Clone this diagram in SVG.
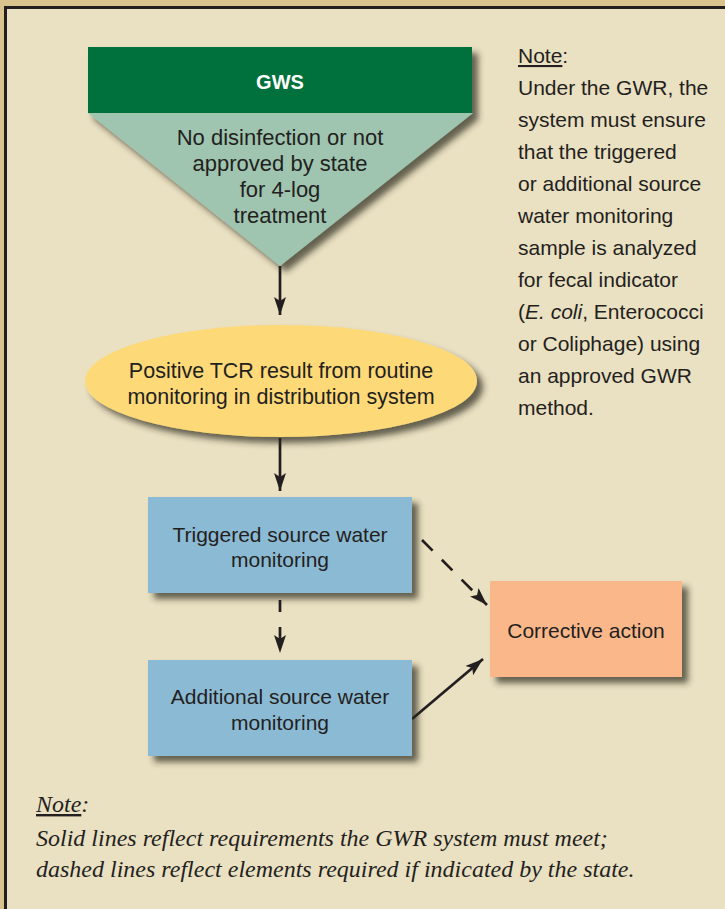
<svg xmlns="http://www.w3.org/2000/svg" width="725" height="909" viewBox="0 0 725 909">
<style>
  .t { font-family: "Liberation Sans", Arial, sans-serif; font-size: 21px; fill: #231f20; text-anchor: middle; }
  .tri { font-size: 22px; }
  .ell { font-size: 21.5px; }
  .note { font-family: "Liberation Sans", Arial, sans-serif; font-size: 21px; fill: #231f20; }
  .foot { font-family: "Liberation Serif", "Times New Roman", serif; font-style: italic; font-size: 24px; fill: #231f20; }
  .conn { stroke: #231f20; stroke-width: 2.7; fill: none; }
  .dash { stroke-dasharray: 12 15; }
  .ddash { stroke-dasharray: 15 13; }
</style>
<defs>
  <filter id="sh" x="-10%" y="-10%" width="130%" height="140%">
    <feDropShadow dx="6" dy="6" stdDeviation="3" flood-color="#2b281c" flood-opacity="0.7"/>
  </filter>
  <marker id="ah" markerUnits="userSpaceOnUse" markerWidth="20" markerHeight="14" refX="18" refY="7" orient="auto" viewBox="0 0 20 14">
    <path d="M0,1 L18,7 L0,13 L4,7 Z" fill="#231f20"/>
  </marker>
</defs>

<rect x="0" y="0" width="725" height="909" fill="#d9c48f"/>
<rect x="5.5" y="7.5" width="740" height="920" fill="#eae0c2" stroke="#231f20" stroke-width="3"/>

<g id="connectors">
  <line class="conn" x1="280" y1="266" x2="280" y2="315" marker-end="url(#ah)"/>
  <line class="conn" x1="280" y1="438" x2="280" y2="491" marker-end="url(#ah)"/>
  <line class="conn dash" x1="280" y1="600" x2="280" y2="653" marker-end="url(#ah)"/>
  <line class="conn ddash" x1="422" y1="540" x2="487" y2="605" marker-end="url(#ah)"/>
  <line class="conn" x1="412" y1="719" x2="483" y2="659" marker-end="url(#ah)"/>
</g>

<g id="gws">
  <g filter="url(#sh)">
    <path d="M88,113 L473,113 L280,266 Z" fill="#9fc5b0"/>
    <rect x="88" y="47" width="384" height="66" fill="#006f3c"/>
  </g>
  <text class="t" x="280" y="89" style="fill:#ffffff;font-weight:bold;font-size:20px">GWS</text>
  <text class="t tri" x="280" y="145">No disinfection or not</text>
  <text class="t tri" x="280" y="171">approved by state</text>
  <text class="t tri" x="280" y="197">for 4-log</text>
  <text class="t tri" x="280" y="223">treatment</text>
</g>

<g id="positive-tcr">
  <ellipse cx="281" cy="381" rx="196" ry="56" fill="#fdd977" filter="url(#sh)"/>
  <text class="t ell" x="281" y="378">Positive TCR result from routine</text>
  <text class="t ell" x="281" y="404">monitoring in distribution system</text>
</g>

<g id="triggered">
  <rect x="148" y="497" width="264" height="96" fill="#8bbad4" filter="url(#sh)"/>
  <text class="t" x="280" y="542">Triggered source water</text>
  <text class="t" x="280" y="567">monitoring</text>
</g>

<g id="additional">
  <rect x="148" y="660" width="264" height="96" fill="#8bbad4" filter="url(#sh)"/>
  <text class="t" x="280" y="704">Additional source water</text>
  <text class="t" x="280" y="730">monitoring</text>
</g>

<g id="corrective">
  <rect x="490" y="581" width="192" height="96" fill="#fab88a" filter="url(#sh)"/>
  <text class="t" x="586" y="638">Corrective action</text>
</g>

<g id="side-note">
  <text class="note" x="518" y="63"><tspan text-decoration="underline">Note</tspan>:</text>
  <text class="note" x="518" y="95">Under the GWR, the</text>
  <text class="note" x="518" y="127">system must ensure</text>
  <text class="note" x="518" y="159">that the triggered</text>
  <text class="note" x="518" y="191">or additional source</text>
  <text class="note" x="518" y="223">water monitoring</text>
  <text class="note" x="518" y="255">sample is analyzed</text>
  <text class="note" x="518" y="287">for fecal indicator</text>
  <text class="note" x="518" y="319">(<tspan font-style="italic">E. coli</tspan>, Enterococci</text>
  <text class="note" x="518" y="351">or Coliphage) using</text>
  <text class="note" x="518" y="383">an approved GWR</text>
  <text class="note" x="518" y="415">method.</text>
</g>

<g id="footnote">
  <text class="foot" x="36" y="812"><tspan text-decoration="underline">Note</tspan>:</text>
  <text class="foot" x="36" y="846">Solid lines reflect requirements the GWR system must meet;</text>
  <text class="foot" x="36" y="877">dashed lines reflect elements required if indicated by the state.</text>
</g>
</svg>
